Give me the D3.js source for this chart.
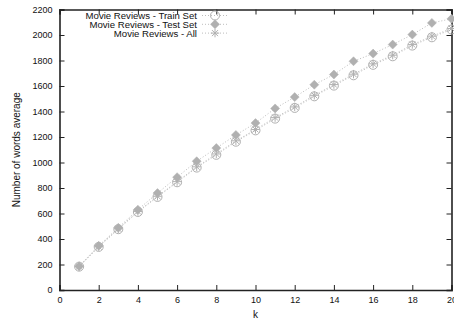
<!DOCTYPE html>
<html>
<head>
<meta charset="utf-8">
<script src="https://cdn.jsdelivr.net/npm/d3@7"></script>
<style>
  html, body { margin: 0; padding: 0; background: #fff; }
  svg { display: block; font-family: "Liberation Sans", Arial, Helvetica, sans-serif; }
</style>
</head>
<body>
<svg id="chart" width="454" height="324"></svg>
<script>
// k values on the x axis
const kValues = [1, 2, 3, 4, 5, 6, 7, 8, 9, 10, 11, 12, 13, 14, 15, 16, 17, 18, 19, 20];
// average number of words per document, one array per data split
const trainSet = [183, 338, 477, 612, 730, 845, 960, 1060, 1163, 1252, 1344, 1428, 1519, 1603, 1684, 1766, 1833, 1917, 1982, 2043];
const testSet  = [187, 347, 488, 630, 760, 885, 1010, 1113, 1216, 1309, 1424, 1513, 1610, 1690, 1794, 1854, 1925, 2003, 2095, 2127];
const allSet   = [184, 340, 480, 616, 735, 850, 966, 1067, 1170, 1259, 1352, 1436, 1527, 1611, 1693, 1774, 1842, 1925, 1991, 2051];
const seriesNames = ["Movie Reviews - Train Set", "Movie Reviews - Test Set", "Movie Reviews - All"];
const xTicks = [0, 2, 4, 6, 8, 10, 12, 14, 16, 18, 20];
const yTicks = [0, 200, 400, 600, 800, 1000, 1200, 1400, 1600, 1800, 2000, 2200];

const svg = d3.select("#chart");
const plotLeft = 59.5, plotRight = 451.5, plotTop = 9.5, plotBottom = 290;

const x = d3.scaleLinear().domain([0, 20]).range([plotLeft, plotRight]);
const y = d3.scaleLinear().domain([0, 2200]).range([plotBottom, plotTop]);

const markColor = "#b0b0b0";
const lineColor = "#bdbdbd";
const axisColor = "#222";

// axes with inward ticks, mirrored on the top and right edges
const gx = svg.append("g").attr("transform", `translate(0,${plotBottom})`)
  .call(d3.axisBottom(x).tickValues(xTicks).tickSize(-5).tickPadding(7).tickFormat(d3.format("d")));
const gy = svg.append("g").attr("transform", `translate(${plotLeft},0)`)
  .call(d3.axisLeft(y).tickValues(yTicks).tickSize(-5).tickPadding(7).tickFormat(d3.format("d")));
const gt = svg.append("g").attr("transform", `translate(0,${plotTop})`)
  .call(d3.axisTop(x).tickValues(xTicks).tickSize(-5).tickFormat(""));
const gr = svg.append("g").attr("transform", `translate(${plotRight},0)`)
  .call(d3.axisRight(y).tickValues(yTicks).tickSize(-5).tickFormat(""));

[gx, gy, gt, gr].forEach(g => {
  g.selectAll(".domain").attr("stroke", axisColor).attr("stroke-width", 1.6);
  g.selectAll(".tick line").attr("stroke", axisColor).attr("stroke-width", 1);
  g.selectAll("text").attr("font-size", 9).attr("fill", "#111")
    .attr("font-family", "'Liberation Sans', Arial, sans-serif");
});

// axis titles
svg.append("text").attr("x", x(10)).attr("y", 318).attr("text-anchor", "middle")
  .attr("font-size", 10).attr("fill", "#111").text("k");
svg.append("text").attr("transform", `translate(20,${(plotTop + plotBottom) / 2}) rotate(-90)`)
  .attr("text-anchor", "middle").attr("font-size", 10).attr("fill", "#111")
  .text("Number of words average");

// marker shapes
function drawCircle(g, cx, cy) {
  g.append("circle").attr("cx", cx).attr("cy", cy).attr("r", 4.5)
    .attr("fill", "none").attr("stroke", markColor).attr("stroke-width", 1);
}
function drawDiamond(g, cx, cy) {
  const s = 4.5;
  g.append("path").attr("d", `M${cx},${cy - s}L${cx + s},${cy}L${cx},${cy + s}L${cx - s},${cy}Z`)
    .attr("fill", markColor).attr("stroke", markColor).attr("stroke-width", 0.5);
}
function drawStar(g, cx, cy) {
  const s = 4.2, d = s * 0.72;
  g.append("path")
    .attr("d", `M${cx - s},${cy}L${cx + s},${cy}M${cx},${cy - s}L${cx},${cy + s}` +
               `M${cx - d},${cy - d}L${cx + d},${cy + d}M${cx - d},${cy + d}L${cx + d},${cy - d}`)
    .attr("fill", "none").attr("stroke", markColor).attr("stroke-width", 1);
}

const series = [
  { values: trainSet, mark: drawCircle },
  { values: testSet, mark: drawDiamond },
  { values: allSet, mark: drawStar }
];

const plot = svg.append("g");
const line = d3.line().x(d => x(d[0])).y(d => y(d[1]));

series.forEach(s => {
  const pts = kValues.map((k, i) => [k, s.values[i]]);
  plot.append("path").attr("d", line(pts)).attr("fill", "none")
    .attr("stroke", lineColor).attr("stroke-width", 1).attr("stroke-dasharray", "1,2");
  const g = plot.append("g");
  pts.forEach(p => s.mark(g, x(p[0]), y(p[1])));
});

// legend, right-aligned text with sample line and marker
const legendY = [19, 27.8, 36.6];
series.forEach((s, i) => {
  const ly = legendY[i];
  svg.append("text").attr("x", 197).attr("y", ly).attr("text-anchor", "end")
    .attr("font-size", 9.6).attr("fill", "#111").text(seriesNames[i]);
  svg.append("line").attr("x1", 202).attr("x2", 228).attr("y1", ly - 3.5).attr("y2", ly - 3.5)
    .attr("stroke", lineColor).attr("stroke-width", 1).attr("stroke-dasharray", "1,2");
  s.mark(svg.append("g"), 215, ly - 3.5);
});
</script>
</body>
</html>
